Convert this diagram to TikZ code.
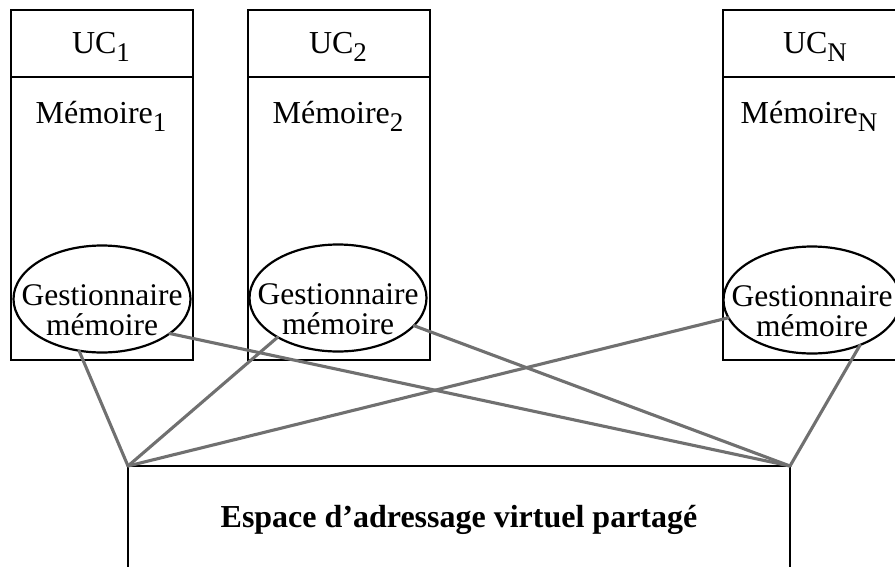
\documentclass[tikz,border=0pt]{standalone}
\usepackage{fontspec}
\setmainfont{Liberation Serif}
\usetikzlibrary{shapes.geometric}
\newcommand\subx[1]{\raisebox{-8pt}{\fontsize{27}{27}\selectfont #1}}
\newcommand\gesttext{\raisebox{-6pt}[0pt][0pt]{\makebox[0pt]{\begin{tabular}[t]{@{}c@{}}Gestionnaire\\mémoire\end{tabular}}}}
\definecolor{linkgray}{RGB}{112,112,112}
\tikzset{
  cell/.style={draw=black, line width=2.2pt, outer sep=0pt, inner sep=0pt, anchor=north west, minimum width=182pt},
  gest/.style={ellipse, draw=black, line width=2.2pt, outer sep=0pt, inner sep=0pt, minimum width=177pt, minimum height=107pt, font=\fontsize{31.5}{28}\selectfont},
  lbl/.style={anchor=base, inner sep=0pt, font=\fontsize{32}{32}\selectfont},
  link/.style={draw=linkgray, line width=3.1pt, line cap=round}
}
\begin{document}
\begin{tikzpicture}[x=1pt,y=-1pt]
\useasboundingbox (0,0) rectangle (895,566);
\clip (0,0) rectangle (895,566);
% processor 1
\node[cell, minimum height=67pt] (uc1) at (11,10) {};
\node[cell, minimum height=283pt] (mem1) at (11,77) {};
\node[lbl] (t-uc1) at (101,53) {UC\subx{1}};
\node[lbl] (t-mem1) at (101,123) {Mémoire\subx{1}};
\node[gest] (g1) at (102,299) {\gesttext};
% processor 2
\node[cell, minimum height=67pt] (uc2) at (248,10) {};
\node[cell, minimum height=283pt] (mem2) at (248,77) {};
\node[lbl] (t-uc2) at (338,53) {UC\subx{2}};
\node[lbl] (t-mem2) at (338,123) {Mémoire\subx{2}};
\node[gest] (g2) at (338,298) {\gesttext};
% processor N
\node[cell, minimum height=67pt] (ucN) at (723,10) {};
\node[cell, minimum height=283pt] (memN) at (723,77) {};
\node[lbl] (t-ucN) at (815,53) {UC\subx{N}};
\node[lbl] (t-memN) at (809,123) {Mémoire\subx{N}};
\node[gest] (gN) at (812,300) {\gesttext};
% shared space
\node[draw=black, line width=2.2pt, outer sep=0pt, inner sep=0pt, anchor=north west, minimum width=662pt, minimum height=150pt] (space) at (128,466) {};
\node[lbl, font=\fontsize{32}{32}\selectfont\bfseries] (t-space) at (459,527) {Espace d’adressage virtuel partagé};
% links
\draw[link] (space.north west) -- (g1.-114);
\draw[link] (space.north west) -- (g2.-147);
\draw[link] (space.north west) -- (gN.-168);
\draw[link] (space.north east) -- (g1.-27);
\draw[link] (space.north east) -- (g2.-20);
\draw[link] (space.north east) -- (gN.-43);
\end{tikzpicture}
\end{document}
